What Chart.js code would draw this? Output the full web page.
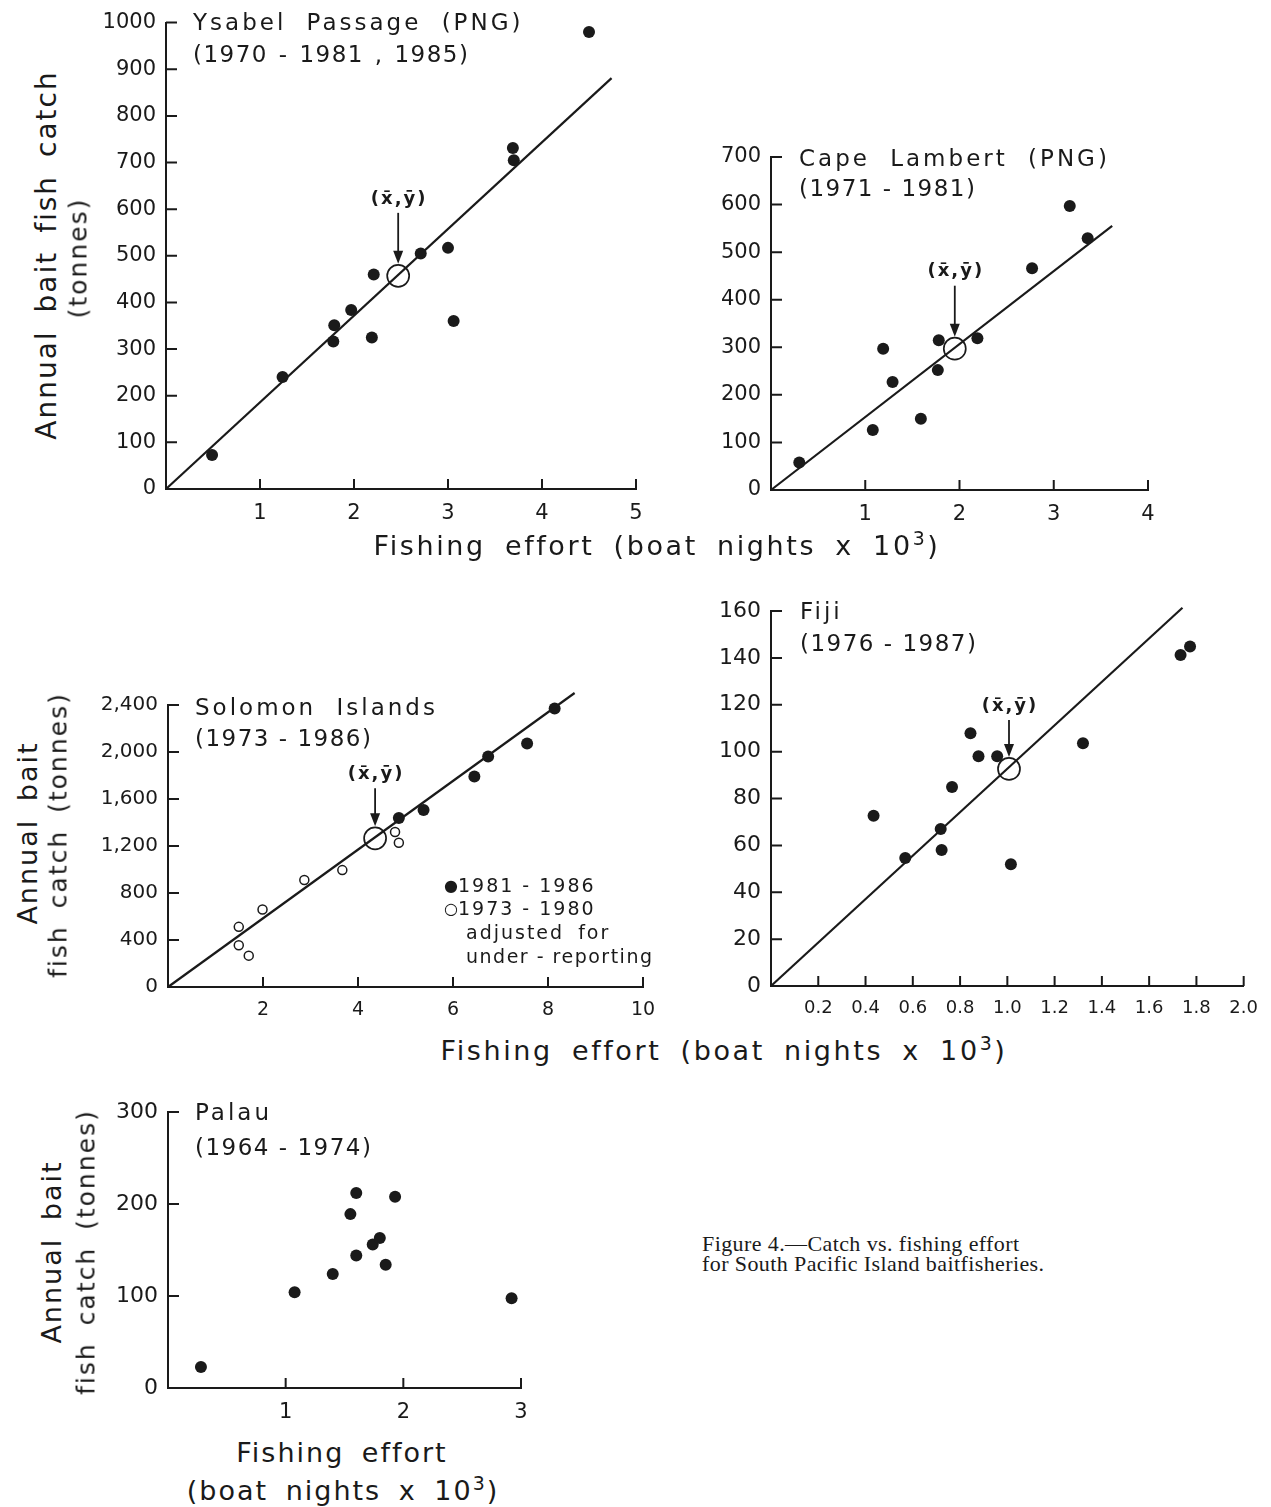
<!DOCTYPE html>
<html>
<head>
<meta charset="utf-8">
<script src="https://cdn.jsdelivr.net/npm/chart.js@4.4.0/dist/chart.umd.min.js"></script>
<style>
body { margin: 0; background: #fff; width: 1271px; height: 1507px; position: relative; overflow: hidden; font-family: "DejaVu Sans", sans-serif; color: #1a1a1a; }
canvas { position: absolute; }
.t { position: absolute; white-space: nowrap; letter-spacing: 2px; word-spacing: 7px; line-height: 1; transform: translateY(-50%); }
.name { font-size: 23px; letter-spacing: 3px; word-spacing: 10px; }
.yrs { font-size: 23px; letter-spacing: 1.5px; word-spacing: 0px; }
.xt { font-size: 27px; letter-spacing: 2.6px; word-spacing: 8px; }
.leg { font-size: 19px; letter-spacing: 2px; word-spacing: 0px; }
.leg span { font-size: 16px; letter-spacing: 0; vertical-align: 1px; }
.rot { transform: translate(-50%, -50%) rotate(-90deg); }
.cen { transform: translate(-50%, -50%); }
.cap { position: absolute; font-family: "Liberation Serif", serif; font-size: 22px; letter-spacing: 0.4px; line-height: 19.5px; white-space: nowrap; }
sup { font-size: 0.7em; line-height: 0; }
</style>
</head>
<body>
<canvas id="ysabel" width="600" height="530" style="left:70px;top:0px"></canvas>
<canvas id="cape" width="500" height="400" style="left:680px;top:130px"></canvas>
<canvas id="solomon" width="600" height="350" style="left:70px;top:680px"></canvas>
<canvas id="fiji" width="580" height="445" style="left:690px;top:585px"></canvas>
<canvas id="palau" width="470" height="345" style="left:80px;top:1085px"></canvas>

<!-- panel titles -->
<div class="t name" style="left:193px;top:22px">Ysabel Passage (PNG)</div>
<div class="t yrs" style="left:193px;top:54px;word-spacing:2px">(1970 - 1981 , 1985)</div>
<div class="t name" style="left:799px;top:158px">Cape Lambert (PNG)</div>
<div class="t yrs" style="left:799px;top:188px">(1971 - 1981)</div>
<div class="t name" style="left:195px;top:707px">Solomon Islands</div>
<div class="t yrs" style="left:195px;top:738px">(1973 - 1986)</div>
<div class="t name" style="left:800px;top:611px">Fiji</div>
<div class="t yrs" style="left:800px;top:643px">(1976 - 1987)</div>
<div class="t name" style="left:195px;top:1112px">Palau</div>
<div class="t yrs" style="left:195px;top:1147px">(1964 - 1974)</div>

<!-- axis titles -->
<div class="t rot" style="left:47px;top:255px;font-size:28px">Annual bait fish catch</div>
<div class="t rot" style="left:78px;top:258px;font-size:25px">(tonnes)</div>
<div class="t cen xt" style="left:657px;top:545px">Fishing effort (boat nights x 10<sup>3</sup>)</div>

<div class="t rot" style="left:27px;top:833px;font-size:27px">Annual bait</div>
<div class="t rot" style="left:58px;top:835px;font-size:25px">fish catch (tonnes)</div>
<div class="t cen xt" style="left:724px;top:1050px">Fishing effort (boat nights x 10<sup>3</sup>)</div>

<div class="t rot" style="left:51px;top:1252px;font-size:27px">Annual bait</div>
<div class="t rot" style="left:86px;top:1252px;font-size:25px">fish catch (tonnes)</div>
<div class="t cen" style="left:342px;top:1452px;font-size:27px">Fishing effort</div>
<div class="t cen" style="left:343px;top:1490px;font-size:27px">(boat nights x 10<sup>3</sup>)</div>

<!-- Solomon legend -->
<div class="t leg" style="left:444px;top:885px"><span>&#9679;</span>1981 - 1986</div>
<div class="t leg" style="left:444px;top:908px"><span>&#9675;</span>1973 - 1980</div>
<div class="t leg" style="left:466px;top:932px;word-spacing:6px">adjusted for</div>
<div class="t leg" style="left:466px;top:956px;letter-spacing:1.5px">under - reporting</div>

<div class="cap" style="left:702px;top:1234px">Figure 4.—Catch vs. fishing effort<br>for South Pacific Island baitfisheries.</div>

<script>
// Ysabel Passage (PNG), 1970-1981, 1985
var ysabelEffort = [0.49, 1.24, 1.79, 1.78, 1.97, 2.19, 2.21, 2.71, 3.0, 3.06, 3.69, 3.70, 4.5];
var ysabelCatch = [73, 240, 351, 316, 384, 325, 460, 505, 517, 360, 731, 705, 980];
var ysabelMean = [2.47, 457];
var ysabelLine = [[0, 0], [4.74, 881]];
var ysabelXTicks = [1, 2, 3, 4, 5];
var ysabelYTicks = [0, 100, 200, 300, 400, 500, 600, 700, 800, 900, 1000];

// Cape Lambert (PNG), 1971-1981
var capeEffort = [0.30, 1.08, 1.19, 1.29, 1.59, 1.78, 1.77, 2.19, 2.77, 3.17, 3.36];
var capeCatch = [58, 126, 297, 227, 150, 315, 252, 319, 466, 597, 529];
var capeMean = [1.95, 297];
var capeLine = [[0, 0], [3.62, 555]];
var capeXTicks = [1, 2, 3, 4];
var capeYTicks = [0, 100, 200, 300, 400, 500, 600, 700];

// Solomon Islands, 1981-1986 (filled) and 1973-1980 adjusted (open)
var solomonEffort8186 = [4.86, 5.38, 6.45, 6.74, 7.56, 8.14];
var solomonCatch8186 = [1438, 1507, 1791, 1962, 2073, 2371];
var solomonEffort7380 = [1.49, 1.49, 1.70, 1.99, 2.87, 3.67, 4.78, 4.86];
var solomonCatch7380 = [512, 355, 267, 660, 910, 995, 1319, 1228];
var solomonMean = [4.36, 1265];
var solomonLine = [[0, 0], [8.56, 2502]];
var solomonXTicks = [2, 4, 6, 8, 10];
var solomonYTicks = [0, 400, 800, 1200, 1600, 2000, 2400];

// Fiji, 1976-1987
var fijiEffort = [0.434, 0.568, 0.718, 0.722, 0.766, 0.844, 0.878, 0.957, 1.015, 1.32, 1.733, 1.773];
var fijiCatch = [72.6, 54.6, 67, 58, 84.9, 107.8, 98, 98, 51.9, 103.6, 141.2, 144.9];
var fijiMean = [1.007, 92.6];
var fijiLine = [[0, 0], [1.741, 161.4]];
var fijiXTicks = [0.2, 0.4, 0.6, 0.8, 1.0, 1.2, 1.4, 1.6, 1.8, 2.0];
var fijiYTicks = [0, 20, 40, 60, 80, 100, 120, 140, 160];

// Palau, 1964-1974
var palauEffort = [0.28, 1.076, 1.40, 1.55, 1.60, 1.60, 1.74, 1.80, 1.85, 1.93, 2.92];
var palauCatch = [22.7, 104, 124, 189, 212, 144, 156, 163, 134, 208, 97.5];
var palauXTicks = [1, 2, 3];
var palauYTicks = [0, 100, 200, 300];

var ink = '#1a1a1a';
var fontName = 'DejaVu Sans';

function toPoints(xs, ys) {
    return xs.map(function(x, i) { return { x: x, y: ys[i] }; });
}

// ticks drawn inside the axes, plus the (x,y) mean label with its arrow
var insideTicks = {
    id: 'insideTicks',
    afterDraw: function(chart, args, opts) {
        var ctx = chart.ctx;
        var a = chart.chartArea;
        var xs = chart.scales.x;
        var ys = chart.scales.y;
        ctx.save();
        ctx.strokeStyle = ink;
        ctx.lineWidth = 2;
        ctx.beginPath();
        xs.ticks.forEach(function(t) {
            if (t.value === 0) return;
            var px = xs.getPixelForValue(t.value);
            ctx.moveTo(px, a.bottom);
            ctx.lineTo(px, a.bottom - 10);
        });
        ys.ticks.forEach(function(t) {
            if (t.value === 0) return;
            var py = ys.getPixelForValue(t.value);
            ctx.moveTo(a.left, py);
            ctx.lineTo(a.left + 11, py);
        });
        ctx.stroke();

        if (opts.mean) {
            var mx = xs.getPixelForValue(opts.mean[0]);
            var my = ys.getPixelForValue(opts.mean[1]);
            var ly = my - opts.offset;
            ctx.fillStyle = ink;
            ctx.font = 'bold 18px "' + fontName + '"';
            ctx.letterSpacing = '2px';
            ctx.textAlign = 'center';
            ctx.textBaseline = 'middle';
            ctx.fillText('(x\u0304,y\u0304)', mx + 1, ly);
            ctx.lineWidth = 1.8;
            ctx.beginPath();
            ctx.moveTo(mx, ly + 14);
            ctx.lineTo(mx, my - 20);
            ctx.stroke();
            ctx.beginPath();
            ctx.moveTo(mx - 5, my - 25);
            ctx.lineTo(mx + 5, my - 25);
            ctx.lineTo(mx, my - 12);
            ctx.closePath();
            ctx.fill();
        }
        ctx.restore();
    }
};

function makePanel(id, p) {
    var datasets = [];
    if (p.line) {
        datasets.push({
            type: 'line',
            data: toPoints([p.line[0][0], p.line[1][0]], [p.line[0][1], p.line[1][1]]),
            borderColor: ink,
            borderWidth: 2.2,
            pointRadius: 0,
            fill: false,
            clip: false
        });
    }
    p.series.forEach(function(s) {
        datasets.push({
            data: toPoints(s.x, s.y),
            pointRadius: s.open ? 4.5 : 6,
            pointBackgroundColor: s.open ? '#fff' : ink,
            pointBorderColor: ink,
            pointBorderWidth: s.open ? 1.5 : 0,
            clip: false
        });
    });
    if (p.mean) {
        datasets.push({
            data: [{ x: p.mean[0], y: p.mean[1] }],
            pointRadius: 11,
            pointBackgroundColor: 'rgba(0,0,0,0)',
            pointBorderColor: ink,
            pointBorderWidth: 1.7,
            clip: false
        });
    }

    return new Chart(document.getElementById(id), {
        type: 'scatter',
        data: { datasets: datasets },
        plugins: [insideTicks],
        options: {
            responsive: false,
            animation: false,
            devicePixelRatio: 1,
            layout: { padding: { left: 0, right: p.right, top: p.top, bottom: 0 } },
            plugins: {
                legend: { display: false },
                tooltip: { enabled: false },
                insideTicks: { mean: p.mean, offset: p.offset }
            },
            scales: {
                x: {
                    type: 'linear',
                    min: 0,
                    max: p.xTicks[p.xTicks.length - 1],
                    afterBuildTicks: function(s) { s.ticks = p.xTicks.map(function(v) { return { value: v }; }); },
                    afterFit: function(s) { s.height = p.xh; },
                    grid: { display: false, drawTicks: false },
                    border: { display: true, width: 2, color: ink },
                    ticks: {
                        color: ink,
                        padding: p.xpad,
                        maxRotation: 0,
                        autoSkip: false,
                        font: { family: fontName, size: p.xfont },
                        callback: p.xfmt || function(v) { return v; }
                    }
                },
                y: {
                    type: 'linear',
                    min: 0,
                    max: p.yTicks[p.yTicks.length - 1],
                    afterBuildTicks: function(s) { s.ticks = p.yTicks.map(function(v) { return { value: v }; }); },
                    afterFit: function(s) { s.width = p.yw; },
                    grid: { display: false, drawTicks: false },
                    border: { display: true, width: 2, color: ink },
                    ticks: {
                        color: ink,
                        padding: 10,
                        autoSkip: false,
                        font: { family: fontName, size: p.yfont },
                        callback: p.yfmt || function(v) { return v; }
                    }
                }
            }
        }
    });
}

makePanel('ysabel', {
    series: [{ x: ysabelEffort, y: ysabelCatch }],
    mean: ysabelMean, line: ysabelLine, offset: 77,
    xTicks: ysabelXTicks, yTicks: ysabelYTicks,
    yw: 96, xh: 41, right: 34, top: 22, xpad: 12, xfont: 21, yfont: 21
});

makePanel('cape', {
    series: [{ x: capeEffort, y: capeCatch }],
    mean: capeMean, line: capeLine, offset: 77,
    xTicks: capeXTicks, yTicks: capeYTicks,
    yw: 91, xh: 40, right: 32, top: 27, xpad: 12, xfont: 21, yfont: 21
});

makePanel('solomon', {
    series: [
        { x: solomonEffort7380, y: solomonCatch7380, open: true },
        { x: solomonEffort8186, y: solomonCatch8186 }
    ],
    mean: solomonMean, line: solomonLine, offset: 64,
    xTicks: solomonXTicks, yTicks: solomonYTicks,
    yw: 98, xh: 43, right: 27, top: 25, xpad: 12, xfont: 19, yfont: 20,
    yfmt: function(v) { return v.toLocaleString('en-US'); }
});

makePanel('fiji', {
    series: [{ x: fijiEffort, y: fijiCatch }],
    mean: fijiMean, line: fijiLine, offset: 63,
    xTicks: fijiXTicks, yTicks: fijiYTicks,
    yw: 81, xh: 44, right: 26, top: 26, xpad: 12, xfont: 18, yfont: 22,
    xfmt: function(v) { return v.toFixed(1); }
});

makePanel('palau', {
    series: [{ x: palauEffort, y: palauCatch }],
    xTicks: palauXTicks, yTicks: palauYTicks,
    yw: 88, xh: 42, right: 29, top: 27, xpad: 12, xfont: 21, yfont: 22
});
</script>
</body>
</html>
